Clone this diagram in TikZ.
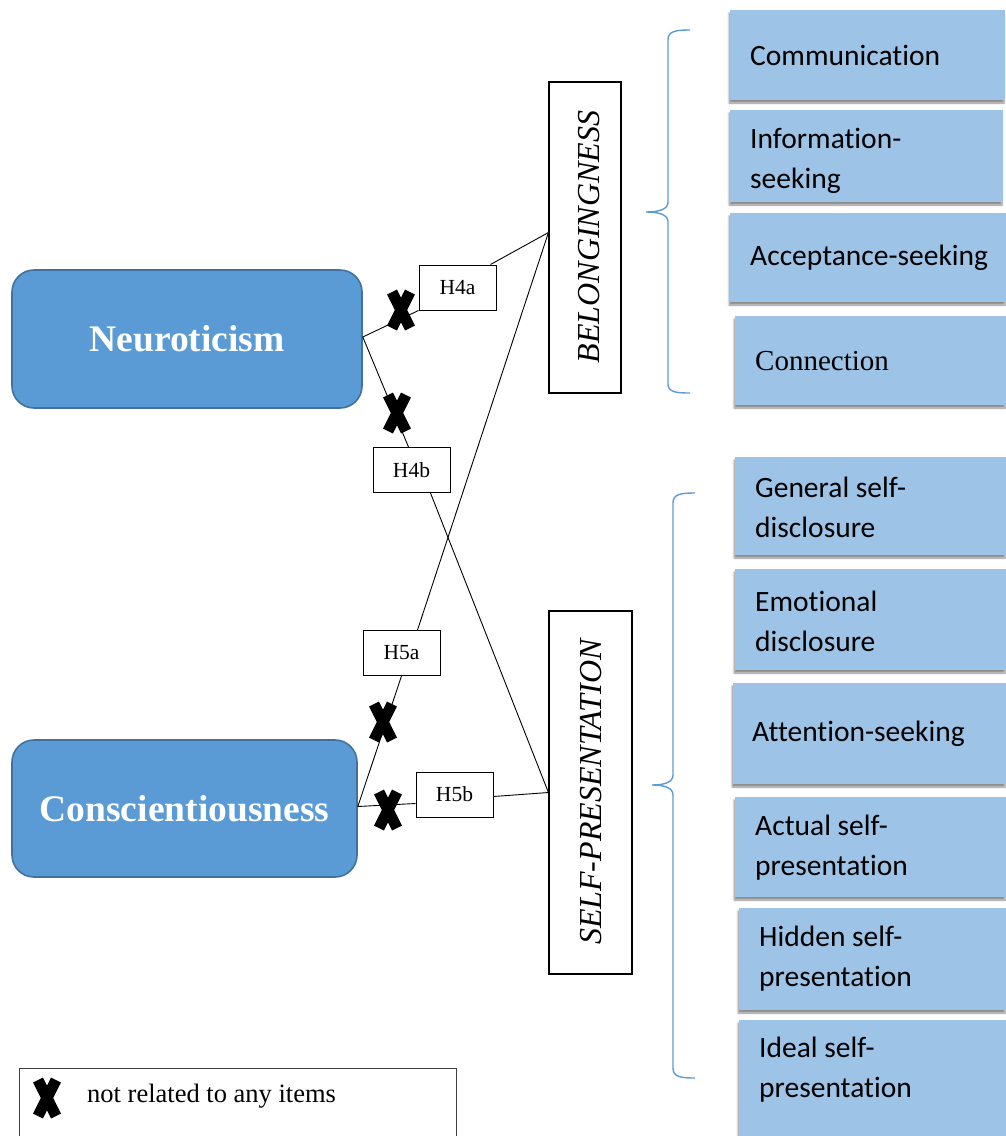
\documentclass[tikz,border=0pt]{standalone}
\usepackage{fontspec}
\setmainfont{Liberation Serif}
\newfontfamily\calfont[Ligatures={NoCommon}]{Carlito}
\usetikzlibrary{calc,shadows.blur}
\definecolor{trait}{HTML}{5B9BD5}
\definecolor{traitborder}{HTML}{41719C}
\definecolor{itemfill}{HTML}{9DC3E6}
\definecolor{bracecol}{HTML}{5B9BD5}
\begin{document}
\begin{tikzpicture}[x=1pt,y=-1pt,
  traitbox/.style={draw=traitborder, line width=1.6pt, fill=trait, rounded corners=22pt,
     text=white, font=\bfseries\fontsize{37.5}{40}\selectfont},
  construct/.style={draw=black, line width=1.1pt, fill=white},
  constructtext/.style={rotate=90, font=\itshape\fontsize{32}{34}\selectfont},
  hyp/.style={draw=black, line width=1pt, fill=white, minimum width=77pt, minimum height=45pt,
     inner sep=0pt, font=\fontsize{21.5}{23}\selectfont},
  itembox/.style={fill=itemfill, draw=none, inner sep=0pt,
     blur shadow={shadow xshift=-1pt, shadow yshift=-3pt, shadow blur steps=6, shadow opacity=45}},
  itemtext/.style={anchor=west, align=left, inner sep=0pt, font=\calfont\fontsize{29.5}{40}\selectfont},
  conn/.style={draw=black, line width=0.9pt},
  bracepath/.style={draw=bracecol, line width=1.4pt},
  xmark/.pic={\draw[line width=11pt] (-9,-18)--(9,18) (9,-18)--(-9,18);}
]
\useasboundingbox (0,0) rectangle (1006,1136);

% traits
\node[traitbox, minimum width=350pt, minimum height=138pt] (neu) at (187,339) {Neuroticism};
\node[traitbox, minimum width=345pt, minimum height=137pt] (con) at (184.5,808.5) {Conscientiousness};

% constructs
\node[construct, minimum width=72pt, minimum height=311pt] (bel) at (585,237.5) {};
\node[constructtext] (belt) at (589,237) {BELONGINGNESS};
\node[construct, minimum width=83pt, minimum height=363pt] (sp) at (590.5,792.5) {};
\node[constructtext] (spt) at (591,792) {SELF-PRESENTATION};
\coordinate (belin) at ($(bel.west)+(0,-5)$);

% hypotheses
\node[hyp] (h4a) at (457.5,287.5) {H4a};
\node[hyp] (h4b) at (411.5,470) {H4b};
\node[hyp] (h5a) at (401.5,653) {H5a};
\node[hyp] (h5b) at (454.5,794.5) {H5b};

% connectors
\draw[conn] ($(neu.east)+(0,-2)$) -- (h4a.south west);
\draw[conn] ($(h4a.north east)+(-6,0)$) -- (belin);
\draw[conn] ($(neu.east)+(0,-2)$) -- ($(h4b.north)+(-3,0)$);
\draw[conn] ($(h4b.south)+(19,0)$) -- (sp.west);
\draw[conn] ($(con.east)+(0,-2)$) -- (h5a.south);
\draw[conn] ($(h5a.north)+(16,0)$) -- (belin);
\draw[conn] ($(con.east)+(0,-2)$) -- ($(h5b.west)+(0,9)$);
\draw[conn] ($(h5b.east)+(0,2)$) -- (sp.west);

% not-related marks
\pic at (401,310) {xmark};
\pic at (397,413) {xmark};
\pic at (383,722) {xmark};
\pic at (388,810) {xmark};

% braces
\draw[bracepath] (690,30) .. controls (676,30) and (668,31) .. (668,40)
  -- (668,202) .. controls (668,209) and (660,212) .. (646,212)
  .. controls (660,212) and (668,215) .. (668,222)
  -- (668,384) .. controls (668,392) and (676,393) .. (690,393);
\draw[bracepath] (695,493) .. controls (681,493) and (673,494) .. (673,503)
  -- (673,775) .. controls (673,782) and (665,785) .. (652,785)
  .. controls (665,785) and (673,788) .. (673,795)
  -- (673,1068) .. controls (673,1077) and (681,1078) .. (695,1078);

% items
\node[itembox, minimum width=275pt, minimum height=90pt] (b1) at (867.5,55) {};
\node[itemtext] (t1) at (750,55) {Communication};
\node[itembox, minimum width=273pt, minimum height=92pt] (b2) at (866.5,156) {};
\node[itemtext] (t2) at (750,161) {Information-\\seeking};
\node[itembox, minimum width=276pt, minimum height=89pt] (b3) at (868,257.5) {};
\node[itemtext] (t3) at (750,258) {Acceptance-seeking};
\node[itembox, minimum width=271pt, minimum height=89pt] (b4) at (870.5,360.5) {};
\node[itemtext, font=\fontsize{29}{40}\selectfont] (t4) at (755,361) {Connection};
\node[itembox, minimum width=271pt, minimum height=98pt] (b5) at (870.5,506) {};
\node[itemtext] (t5) at (755,507) {General self-\\disclosure};
\node[itembox, minimum width=271pt, minimum height=101pt] (b6) at (870.5,619.5) {};
\node[itemtext] (t6) at (755,621) {Emotional\\disclosure};
\node[itembox, minimum width=273pt, minimum height=101pt] (b7) at (869.5,733.5) {};
\node[itemtext] (t7) at (752,734) {Attention-seeking};
\node[itembox, minimum width=271pt, minimum height=100pt] (b8) at (870.5,847) {};
\node[itemtext] (t8) at (755,848) {Actual self-\\presentation};
\node[itembox, minimum width=267pt, minimum height=102pt] (b9) at (872.5,959) {};
\node[itemtext] (t9) at (759,959) {Hidden self-\\presentation};
\node[itembox, minimum width=267pt, minimum height=130pt] (b10) at (872.5,1085) {};
\node[itemtext] (t10) at (759,1070) {Ideal self-\\presentation};

% legend
\node[draw=black!75, line width=1pt, minimum width=437pt, minimum height=90pt, inner sep=0pt] (leg) at (237.5,1113) {};
\pic at (47,1098) {xmark};
\node[anchor=west, inner sep=0pt, font=\fontsize{26.5}{28}\selectfont] (legt) at (87,1096) {not related to any items};
\end{tikzpicture}
\end{document}
